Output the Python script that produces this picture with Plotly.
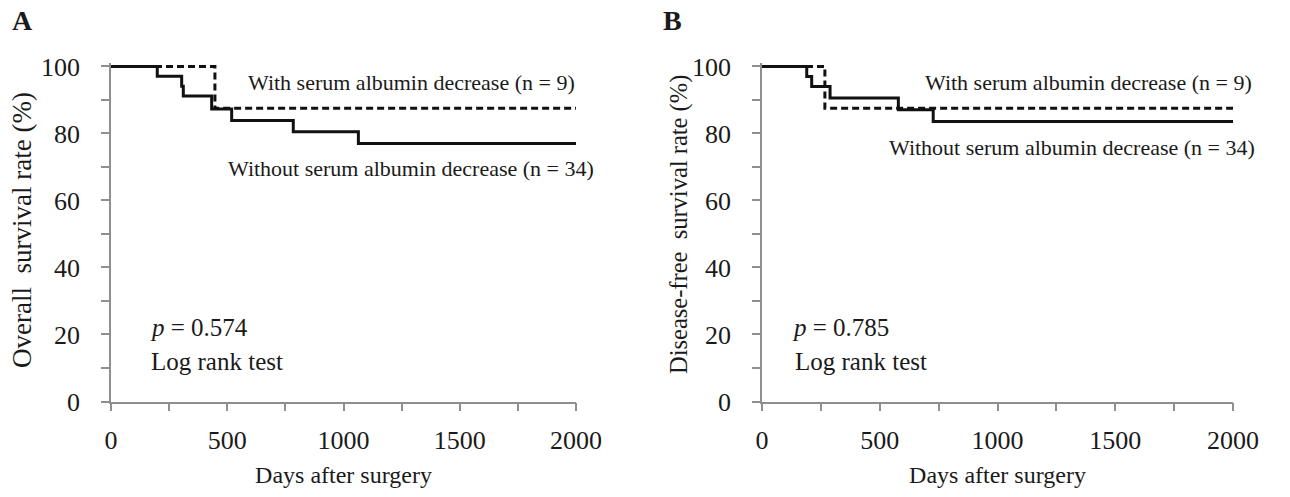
import plotly.graph_objects as go

# ---- data ----
# Panel A: overall survival
os_with_days = [0, 447, 2000]
os_with_rate = [100, 87.5, 87.5]
os_without_days = [0, 199, 304, 311, 433, 519, 784, 1064, 2000]
os_without_rate = [100, 97.1, 94.1, 91.2, 87.3, 83.9, 80.5, 77.0, 77.0]

# Panel B: disease-free survival
dfs_with_days = [0, 267, 2000]
dfs_with_rate = [100, 87.5, 87.5]
dfs_without_days = [0, 190, 211, 289, 579, 727, 2000]
dfs_without_rate = [100, 97.0, 94.0, 90.6, 87.1, 83.6, 83.6]

x_ticks = [0, 500, 1000, 1500, 2000]
y_ticks = [0, 20, 40, 60, 80, 100]

p_values = ["0.574", "0.785"]
panel_letters = ["A", "B"]
y_titles = ["Overall  survival rate (%)", "Disease-free  survival rate (%)"]
label_with = "With serum albumin decrease (n = 9)"
label_without = "Without serum albumin decrease (n = 34)"

W, H = 1290, 497
FONT = "Liberation Serif"
AXC = "#8f8f8f"
TXT = "#1a1a1a"

def px(x):
    return x / W

def py(y):
    return 1 - y / H

fig = go.Figure()

line_solid = dict(color="#111111", width=3, shape="hv")
line_dash = dict(color="#111111", width=3, shape="hv", dash="7px,4px")

fig.add_trace(go.Scatter(x=os_with_days, y=os_with_rate, mode="lines", line=line_dash,
                         xaxis="x", yaxis="y", showlegend=False))
fig.add_trace(go.Scatter(x=os_without_days, y=os_without_rate, mode="lines", line=line_solid,
                         xaxis="x", yaxis="y", showlegend=False))
fig.add_trace(go.Scatter(x=dfs_with_days, y=dfs_with_rate, mode="lines", line=line_dash,
                         xaxis="x2", yaxis="y2", showlegend=False))
fig.add_trace(go.Scatter(x=dfs_without_days, y=dfs_without_rate, mode="lines", line=line_solid,
                         xaxis="x2", yaxis="y2", showlegend=False))

ydom = [py(401.5), py(63.1)]

def xaxis(domain, anchor):
    return dict(domain=domain, anchor=anchor, range=[0, 2000], tickmode="array",
                tickvals=x_ticks, ticktext=[str(v) for v in x_ticks],
                showline=True, linecolor=AXC, linewidth=1.5, ticks="outside",
                ticklen=8, tickcolor=AXC, tickwidth=1.5,
                minor=dict(dtick=250, ticks="outside", ticklen=8, tickcolor=AXC, tickwidth=1.5),
                showgrid=False, zeroline=False, automargin=False,
                tickfont=dict(family=FONT, size=26, color=TXT),
                ticklabelstandoff=7,
                title=dict(text="Days after surgery", standoff=12,
                           font=dict(family=FONT, size=24, color=TXT)))

def yaxis(anchor):
    return dict(domain=ydom, anchor=anchor, range=[0, 101], tickmode="array",
                tickvals=y_ticks, ticktext=[str(v) for v in y_ticks],
                showline=True, linecolor=AXC, linewidth=1.5, ticks="outside",
                ticklen=8, tickcolor=AXC, tickwidth=1.5,
                minor=dict(dtick=10, ticks="outside", ticklen=8, tickcolor=AXC, tickwidth=1.5),
                showgrid=False, zeroline=False, automargin=False,
                tickfont=dict(family=FONT, size=26, color=TXT),
                ticklabelstandoff=16)

annotations = []
def ann(text, x, y, size, bold=False, angle=0, xanchor="left"):
    annotations.append(dict(text=(f"<b>{text}</b>" if bold else text), xref="paper", yref="paper",
                            x=px(x), y=py(y), xanchor=xanchor, yanchor="middle", showarrow=False,
                            textangle=angle,
                            font=dict(family=FONT, size=size, color=TXT)))

# Panel A texts
ann(panel_letters[0], 10, 21, 28, bold=True)
ann(y_titles[0], 22, 230, 27, angle=-90, xanchor="center")
ann(label_with, 246, 83, 22)
ann(label_without, 226, 168, 22)
ann(f"<i>p</i> = {p_values[0]}", 148, 327, 25)
ann("Log rank test", 149, 361, 25)
# Panel B texts
ann(panel_letters[1], 661, 20, 28, bold=True)
ann(y_titles[1], 679, 225, 24.5, angle=-90, xanchor="center")
ann(label_with, 923, 83, 22)
ann(label_without, 887, 148, 22)
ann(f"<i>p</i> = {p_values[1]}", 790, 327, 25)
ann("Log rank test", 793, 361, 25)

fig.update_layout(
    width=W, height=H,
    margin=dict(l=0, r=0, t=0, b=0),
    paper_bgcolor="white", plot_bgcolor="white",
    xaxis=xaxis([px(111), px(576)], "y"),
    yaxis=yaxis("x"),
    xaxis2=xaxis([px(762), px(1233)], "y2"),
    yaxis2=yaxis("x2"),
    annotations=annotations,
    showlegend=False,
)

fig.write_html("out.html")
